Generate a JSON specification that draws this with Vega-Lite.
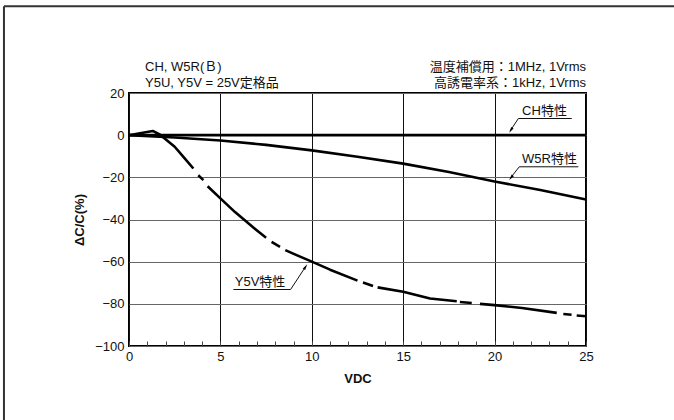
{
  "$schema": "https://vega.github.io/schema/vega-lite/v6.json",
  "width": 457,
  "height": 253,
  "autosize": {"type": "none"},
  "padding": {"left": 129, "top": 93, "right": 88, "bottom": 74},
  "background": "white",
  "config": {
    "font": "Liberation Sans, Noto Sans CJK JP",
    "view": {"stroke": "#000", "strokeWidth": 2},
    "text": {"font": "Liberation Sans, Noto Sans CJK JP", "fontSize": 13, "color": "#111"}
  },
  "resolve": {"axis": {"x": "independent", "y": "independent"}},
  "datasets": {
    "curves": [
      {"series": "CH", "seg": "CH", "x": 0, "y": 0},
      {"series": "CH", "seg": "CH", "x": 25, "y": 0},
      {"series": "W5R", "seg": "W", "x": 0, "y": 0},
      {"series": "W5R", "seg": "W", "x": 2.5, "y": -1.1},
      {"series": "W5R", "seg": "W", "x": 5, "y": -2.5},
      {"series": "W5R", "seg": "W", "x": 7.5, "y": -4.6},
      {"series": "W5R", "seg": "W", "x": 10, "y": -7.2},
      {"series": "W5R", "seg": "W", "x": 12.5, "y": -10.2},
      {"series": "W5R", "seg": "W", "x": 15, "y": -13.5},
      {"series": "W5R", "seg": "W", "x": 17.5, "y": -17.5},
      {"series": "W5R", "seg": "W", "x": 20, "y": -22},
      {"series": "W5R", "seg": "W", "x": 22.5, "y": -26},
      {"series": "W5R", "seg": "W", "x": 25, "y": -30.5},
      {"series": "Y5V", "seg": "Y1", "x": 0, "y": 0},
      {"series": "Y5V", "seg": "Y1", "x": 0.6, "y": 0.9},
      {"series": "Y5V", "seg": "Y1", "x": 1.3, "y": 2.0},
      {"series": "Y5V", "seg": "Y1", "x": 1.7, "y": 0.2},
      {"series": "Y5V", "seg": "Y1", "x": 2.5, "y": -5.5},
      {"series": "Y5V", "seg": "Y1", "x": 3.0, "y": -10.5},
      {"series": "Y5V", "seg": "Y1", "x": 3.52, "y": -15.8},
      {"series": "Y5V", "seg": "Y2", "x": 3.79, "y": -19.0},
      {"series": "Y5V", "seg": "Y2", "x": 4.07, "y": -21.3},
      {"series": "Y5V", "seg": "Y3", "x": 4.3, "y": -24.2},
      {"series": "Y5V", "seg": "Y3", "x": 5, "y": -30},
      {"series": "Y5V", "seg": "Y3", "x": 5.8, "y": -36.5},
      {"series": "Y5V", "seg": "Y3", "x": 6.9, "y": -44.5},
      {"series": "Y5V", "seg": "Y3", "x": 7.5, "y": -48.7},
      {"series": "Y5V", "seg": "Y4", "x": 7.8, "y": -50.6},
      {"series": "Y5V", "seg": "Y4", "x": 8.26, "y": -53},
      {"series": "Y5V", "seg": "Y5", "x": 8.55, "y": -54.5},
      {"series": "Y5V", "seg": "Y5", "x": 9.2, "y": -57},
      {"series": "Y5V", "seg": "Y5", "x": 10, "y": -60},
      {"series": "Y5V", "seg": "Y5", "x": 11, "y": -63.8},
      {"series": "Y5V", "seg": "Y5", "x": 12.5, "y": -69},
      {"series": "Y5V", "seg": "Y6", "x": 12.8, "y": -69.9},
      {"series": "Y5V", "seg": "Y6", "x": 13.35, "y": -71.5},
      {"series": "Y5V", "seg": "Y7", "x": 13.6, "y": -72.2},
      {"series": "Y5V", "seg": "Y7", "x": 15, "y": -74.3},
      {"series": "Y5V", "seg": "Y7", "x": 16.47, "y": -77.5},
      {"series": "Y5V", "seg": "Y7", "x": 17.93, "y": -78.8},
      {"series": "Y5V", "seg": "Y8", "x": 18.1, "y": -79.1},
      {"series": "Y5V", "seg": "Y8", "x": 18.75, "y": -79.6},
      {"series": "Y5V", "seg": "Y9", "x": 19.2, "y": -80},
      {"series": "Y5V", "seg": "Y9", "x": 20, "y": -80.6},
      {"series": "Y5V", "seg": "Y9", "x": 21.5, "y": -82},
      {"series": "Y5V", "seg": "Y9", "x": 23.4, "y": -84.3},
      {"series": "Y5V", "seg": "Y10", "x": 23.76, "y": -84.8},
      {"series": "Y5V", "seg": "Y10", "x": 24.21, "y": -85.2},
      {"series": "Y5V", "seg": "Y11", "x": 24.49, "y": -85.5},
      {"series": "Y5V", "seg": "Y11", "x": 25, "y": -85.9}
    ],
    "one": [{}]
  },
  "layer": [
    {
      "data": {"name": "curves"},
      "mark": {"type": "line", "color": "#000", "strokeWidth": 2.6, "strokeCap": "butt", "strokeJoin": "round"},
      "encoding": {
        "x": {
          "field": "x", "type": "quantitative",
          "scale": {"domain": [0, 25], "nice": false, "zero": false},
          "axis": {
            "title": "VDC",
            "titleFontSize": 13, "titleFontWeight": "bold", "titleColor": "#111", "titlePadding": 9,
            "values": [0,1,2,3,4,5,6,7,8,9,10,11,12,13,14,15,16,17,18,19,20,21,22,23,24,25],
            "labelExpr": "datum.value % 5 === 0 ? datum.label : ''",
            "labelFontSize": 13, "labelColor": "#111", "labelPadding": 9, "labelFlush": false,
            "domain": false,
            "tickSize": -5, "tickColor": "#444", "tickWidth": 1,
            "grid": true,
            "gridColor": {"condition": {"test": "datum.value % 5 === 0", "value": "#111"}, "value": "transparent"},
            "gridWidth": 1
          }
        },
        "y": {
          "field": "y", "type": "quantitative",
          "scale": {"domain": [-100, 20], "nice": false, "zero": false},
          "axis": {
            "title": "ΔC/C(%)",
            "titleFontSize": 13, "titleFontWeight": "bold", "titleColor": "#111", "titlePadding": 8,
            "values": [-100, -80, -60, -40, -20, 0, 20],
            "labelFontSize": 13, "labelColor": "#111", "labelPadding": 5, "labelFlush": false,
            "domain": false, "ticks": false,
            "grid": true, "gridColor": "#666", "gridWidth": 1
          }
        },
        "detail": {"field": "seg"},
        "strokeWidth": {
          "field": "series", "type": "nominal",
          "scale": {"domain": ["CH", "W5R", "Y5V"], "range": [3, 2.6, 2.6]},
          "legend": null
        }
      }
    },
    {
      "data": {"name": "one"},
      "mark": {"type": "text", "align": "left", "baseline": "middle", "lineHeight": 16},
      "encoding": {
        "x": {"datum": 0.875, "axis": null},
        "y": {"datum": 32.3, "axis": null},
        "text": {"value": ["CH, W5R(Ｂ)", "Y5U, Y5V = 25V定格品"]}
      }
    },
    {
      "data": {"name": "one"},
      "mark": {"type": "text", "align": "right", "baseline": "middle", "lineHeight": 16},
      "encoding": {
        "x": {"datum": 25, "axis": null},
        "y": {"datum": 32.3, "axis": null},
        "text": {"value": ["温度補償用：1MHz, 1Vrms", "高誘電率系：1kHz, 1Vrms"]}
      }
    },
    {
      "data": {"name": "one"},
      "mark": {"type": "text", "align": "center", "baseline": "middle"},
      "encoding": {"x": {"datum": 22.73, "axis": null}, "y": {"datum": 11.6, "axis": null}, "text": {"value": "CH特性"}}
    },
    {
      "data": {"name": "one"},
      "mark": {"type": "text", "align": "center", "baseline": "middle"},
      "encoding": {"x": {"datum": 23.0, "axis": null}, "y": {"datum": -11.4, "axis": null}, "text": {"value": "W5R特性"}}
    },
    {
      "data": {"name": "one"},
      "mark": {"type": "text", "align": "center", "baseline": "middle"},
      "encoding": {"x": {"datum": 7.17, "axis": null}, "y": {"datum": -69.6, "axis": null}, "text": {"value": "Y5V特性"}}
    },
    {
      "data": {"name": "one"},
      "mark": {"type": "rule", "color": "#111", "strokeWidth": 1},
      "encoding": {"x": {"datum": 21.3, "axis": null}, "x2": {"datum": 24.22}, "y": {"datum": 7.9, "axis": null}}
    },
    {
      "data": {"name": "one"},
      "mark": {"type": "rule", "color": "#111", "strokeWidth": 1},
      "encoding": {"x": {"datum": 21.3, "axis": null}, "x2": {"datum": 20.85}, "y": {"datum": 7.9, "axis": null}, "y2": {"datum": 2.0}}
    },
    {
      "data": {"name": "one"},
      "mark": {"type": "rule", "color": "#111", "strokeWidth": 1},
      "encoding": {"x": {"datum": 21.35, "axis": null}, "x2": {"datum": 24.58}, "y": {"datum": -15.0, "axis": null}}
    },
    {
      "data": {"name": "one"},
      "mark": {"type": "rule", "color": "#111", "strokeWidth": 1},
      "encoding": {"x": {"datum": 21.35, "axis": null}, "x2": {"datum": 20.86}, "y": {"datum": -15.0, "axis": null}, "y2": {"datum": -20.4}}
    },
    {
      "data": {"name": "one"},
      "mark": {"type": "rule", "color": "#111", "strokeWidth": 1},
      "encoding": {"x": {"datum": 5.71, "axis": null}, "x2": {"datum": 8.84}, "y": {"datum": -73.2, "axis": null}}
    },
    {
      "data": {"name": "one"},
      "mark": {"type": "rule", "color": "#111", "strokeWidth": 1},
      "encoding": {"x": {"datum": 8.84, "axis": null}, "x2": {"datum": 9.65}, "y": {"datum": -73.2, "axis": null}, "y2": {"datum": -62.5}}
    },
    {
      "data": {"name": "one"},
      "mark": {"type": "point", "shape": "M0,0L0.4,1.7L-0.4,1.7Z", "filled": true, "color": "#000", "opacity": 1, "size": 49, "angle": 212},
      "encoding": {"x": {"datum": 20.8, "axis": null}, "y": {"datum": 1.1, "axis": null}}
    },
    {
      "data": {"name": "one"},
      "mark": {"type": "point", "shape": "M0,0L0.4,1.7L-0.4,1.7Z", "filled": true, "color": "#000", "opacity": 1, "size": 49, "angle": 217},
      "encoding": {"x": {"datum": 20.8, "axis": null}, "y": {"datum": -21.3, "axis": null}}
    },
    {
      "data": {"name": "one"},
      "mark": {"type": "point", "shape": "M0,0L0.4,1.7L-0.4,1.7Z", "filled": true, "color": "#000", "opacity": 1, "size": 49, "angle": 33},
      "encoding": {"x": {"datum": 9.75, "axis": null}, "y": {"datum": -61.2, "axis": null}}
    },
    {
      "data": {"name": "one"},
      "mark": {"type": "rule", "color": "#333", "strokeWidth": 2},
      "encoding": {"x": {"datum": -6.84, "axis": null}, "y": {"datum": 61.2, "axis": null}, "y2": {"datum": -140}}
    },
    {
      "data": {"name": "one"},
      "mark": {"type": "rule", "color": "#333", "strokeWidth": 2},
      "encoding": {"x": {"datum": -6.84, "axis": null}, "x2": {"datum": 32}, "y": {"datum": 61.2, "axis": null}}
    }
  ]
}
